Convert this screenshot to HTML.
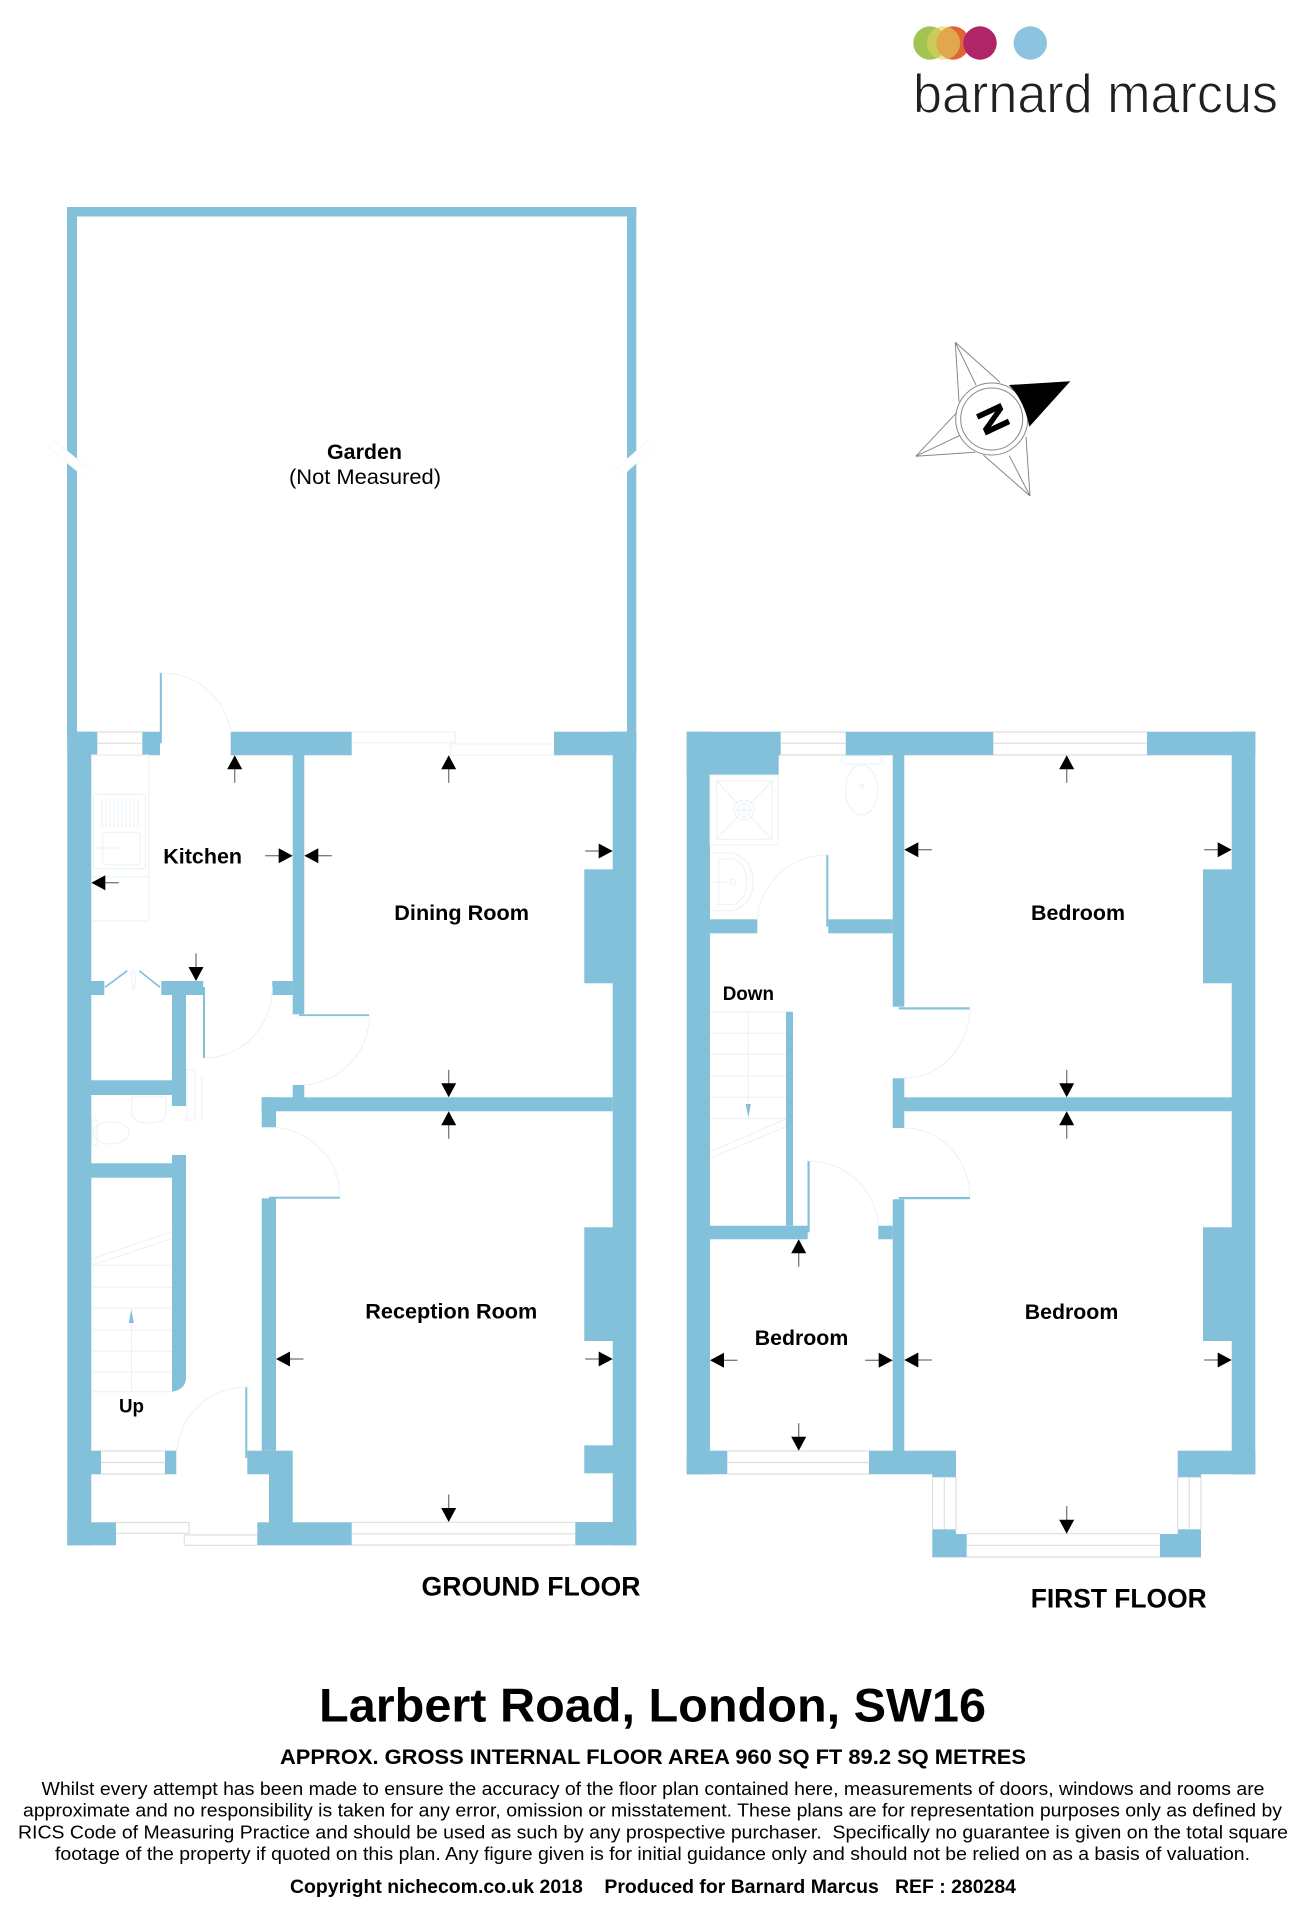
<!DOCTYPE html>
<html><head><meta charset="utf-8"><style>html,body{margin:0;padding:0;background:#fff}svg{display:block}text{font-family:"Liberation Sans",sans-serif;fill:#000}.b{font-weight:bold}</style></head>
<body>
<svg xmlns="http://www.w3.org/2000/svg" width="1310" height="1920" viewBox="0 0 1310 1920">
<defs>
<g id="a"><line x1="0" y1="12" x2="0" y2="27.5" stroke="#777" stroke-width="1.3"/><path d="M0 0L7.5 14L-7.5 14Z" fill="#000"/></g>
</defs>
<rect width="1310" height="1920" fill="#fff"/>

<!-- logo -->
<circle cx="930" cy="43" r="16.7" fill="#a3c254"/>
<circle cx="953" cy="43" r="16.7" fill="#df6535"/>
<circle cx="943.5" cy="43" r="16.7" fill="#e2d45c" opacity=".6"/>
<circle cx="980" cy="43" r="16.7" fill="#b02468"/>
<circle cx="1030.3" cy="43" r="16.7" fill="#8cc3de"/>
<text x="913" y="112.3" font-size="55" textLength="365" lengthAdjust="spacingAndGlyphs" stroke="#fff" stroke-width="1" style="fill:#231f20">barnard marcus</text>

<!-- compass -->
<g fill="none" stroke="#888" stroke-width="1">
<path d="M955.3 342.3L959 401.7M955.3 342.3L976 385M955.3 342.3L1000 382.3"/>
<path d="M915.7 456.3L956.7 412.7M915.7 456.3L959.3 435.7M915.7 456.3L975 452.3"/>
<path d="M1030 496L983.3 455M1030 496L1009.3 455.7M1030 496L1026 436.7"/>
<circle cx="991.7" cy="419" r="36"/><circle cx="991.7" cy="419" r="31"/>
</g>
<path d="M1009 385L1070.3 381.3L1029.3 426.7Q1024 400 1009 385Z" fill="#000"/>
<text class="b" x="0" y="0" font-size="38" text-anchor="middle" stroke="#000" stroke-width=".8" transform="translate(993.5,419) rotate(65) translate(0,13.5)">N</text>

<g fill="#83c0da">
<!-- garden -->
<rect x="67" y="207" width="569.3" height="9.5"/>
<rect x="67" y="207" width="10" height="530"/>
<rect x="627" y="207" width="9.3" height="530"/>
<!-- ground floor outer -->
<rect x="67.3" y="731.7" width="24" height="813.6"/>
<rect x="612.7" y="731.7" width="23.6" height="813.6"/>
<rect x="67.3" y="731.7" width="30" height="23.6"/>
<rect x="142.3" y="731.7" width="17.7" height="23.6"/>
<rect x="159.8" y="672.8" width="2" height="70.5"/>
<rect x="230.7" y="731.7" width="121" height="23.6"/>
<rect x="554" y="731.7" width="82.3" height="23.6"/>
<rect x="584.3" y="869.3" width="30" height="114"/>
<rect x="584.3" y="1227.3" width="30" height="113.7"/>
<rect x="584.3" y="1445.3" width="30" height="28"/>
<rect x="575.3" y="1522" width="61" height="23.3"/>
<rect x="67.3" y="1522.3" width="48.7" height="23"/>
<rect x="257.3" y="1522.3" width="94.4" height="23"/>
<rect x="269" y="1474" width="23.7" height="49"/>
<rect x="247.3" y="1450.7" width="45.4" height="23.6"/>
<rect x="165" y="1450.7" width="11.3" height="23.6"/>
<rect x="91" y="1450.7" width="10" height="23.6"/>
<rect x="245.3" y="1386.7" width="2" height="71.3"/>
<!-- ground interior -->
<rect x="292.7" y="755" width="11.6" height="259.3"/>
<rect x="91" y="981" width="13.3" height="14"/>
<rect x="161.3" y="981" width="42" height="14"/>
<rect x="272.3" y="981" width="20.4" height="14"/>
<rect x="203" y="987" width="2" height="71"/>
<rect x="172" y="995" width="14" height="111"/>
<rect x="91" y="1080.3" width="81" height="14.7"/>
<rect x="299" y="1014.3" width="70.3" height="1.8"/>
<rect x="292.7" y="1085" width="11.6" height="13"/>
<rect x="261.7" y="1097.3" width="351" height="14"/>
<rect x="261.7" y="1097.3" width="14.3" height="30"/>
<rect x="269" y="1196.7" width="71" height="2"/>
<rect x="261.7" y="1198.3" width="14.3" height="252.4"/>
<rect x="91" y="1163.3" width="81" height="14.4"/>
<path d="M172 1155H186V1377.7Q186 1389 172 1391.7Z"/>
<!-- first floor outer -->
<rect x="686.7" y="731.7" width="23.3" height="742.6"/>
<rect x="686.7" y="731.7" width="94" height="23.6"/>
<rect x="686.7" y="755" width="92" height="20.3"/>
<rect x="845.7" y="731.7" width="147.6" height="23.6"/>
<rect x="1147" y="731.7" width="108.3" height="23.6"/>
<rect x="1231.7" y="731.7" width="23.6" height="742.6"/>
<rect x="1203" y="869.3" width="29" height="114"/>
<rect x="1203" y="1227.3" width="29" height="113.7"/>
<rect x="1177.7" y="1450.7" width="77.6" height="23.6"/>
<rect x="1177.7" y="1474" width="23.3" height="3.3"/>
<rect x="686.7" y="1450.7" width="40.6" height="23.6"/>
<rect x="869" y="1450.7" width="87" height="23.6"/>
<rect x="932.3" y="1474" width="23.7" height="3.3"/>
<rect x="932.3" y="1529.3" width="23.7" height="5"/>
<rect x="932.3" y="1534" width="34.4" height="23.3"/>
<rect x="1177.7" y="1529.3" width="23.3" height="5"/>
<rect x="1160" y="1534" width="41" height="23.3"/>
<!-- first interior -->
<rect x="892.7" y="755" width="11.6" height="251.7"/>
<rect x="898.7" y="1007.3" width="71.3" height="2.2"/>
<rect x="892.7" y="1078.3" width="11.6" height="49.7"/>
<rect x="904" y="1097.3" width="328" height="14"/>
<rect x="898.7" y="1197" width="71.3" height="2.2"/>
<rect x="892.7" y="1199.3" width="11.6" height="252"/>
<rect x="710" y="919.3" width="47.3" height="14"/>
<rect x="828.3" y="919.3" width="64.4" height="14"/>
<rect x="826.3" y="855" width="2" height="71.7"/>
<rect x="786" y="1011.7" width="7" height="214"/>
<rect x="710" y="1225.7" width="97.7" height="13.6"/>
<rect x="807.5" y="1161" width="2.2" height="71.3"/>
<rect x="878.3" y="1225.7" width="14.4" height="13.6"/>
<!-- bifold -->
<path d="M105 987.3L127.3 970.7M139.3 970.7L160 987.3" stroke="#83c0da" stroke-width="1.6" fill="none"/>
</g>

<!-- garden breaks -->
<g fill="none">
<path d="M50 443L88 474" stroke="#f5f8fa" stroke-width="10"/><path d="M50 443L88 474" stroke="#fff" stroke-width="8"/>
<path d="M652 443L615 476" stroke="#f5f8fa" stroke-width="10"/><path d="M652 443L615 476" stroke="#fff" stroke-width="8"/>
</g>

<!-- windows -->
<g fill="none" stroke="#dedede" stroke-width="1.2">
<path d="M97.3 732H142.3M97.3 743.3H142.3M97.3 755H142.3"/>
<path d="M101 1451H165M101 1462.5H165M101 1474H165"/>
<path d="M116 1522.5H189V1533.3H116"/>
<path d="M257.3 1535H184.3V1545.3H257.3"/>
<path d="M351.7 1522.3H575.3M351.7 1533.8H575.3M351.7 1545H575.3"/>
<path d="M780.7 732H845.7M780.7 743.3H845.7M780.7 755H845.7"/>
<path d="M993.3 732H1147M993.3 743.3H1147M993.3 755H1147"/>
<path d="M727.3 1451H869M727.3 1462.5H869M727.3 1474H869"/>
<path d="M932.5 1477V1529.3M944.3 1477V1529.3M956 1477V1532"/>
<path d="M1177.7 1477V1532M1189.3 1477V1529.3M1201 1477V1529.3"/>
<path d="M966.7 1533.7H1160M966.7 1545.3H1160M966.7 1557H1160"/>
</g>
<g fill="none" stroke="#edf3f6" stroke-width="1.2">
<path d="M351.7 732H455.3V742.7H351.7"/>
<path d="M554 744H450.7V755.3H554"/>
</g>

<!-- door arcs and fixtures -->
<g fill="none" stroke="#e8f2f6" stroke-width="1">
<path d="M161.5 673A69 70 0 0 1 230.7 732"/>
<path d="M205 1058A68 70 0 0 0 272.3 987"/>
<path d="M369.5 1015A70 70 0 0 1 304 1085"/>
<path d="M340 1197A70 70 0 0 0 276 1127.5"/>
<path d="M246.5 1387A70 70 0 0 0 176.7 1451"/>
<path d="M827.3 855A70 70 0 0 0 757.3 920"/>
<path d="M970 1008A66 70 0 0 1 904 1078"/>
<path d="M970 1197A66 70 0 0 0 904 1128"/>
<path d="M809 1161A70 70 0 0 1 878.3 1225.7"/>
<!-- kitchen -->
<path d="M91 755H148.7V921H91M91 877H148.7"/>
<rect x="93.3" y="794.3" width="52" height="74.4" rx="2"/>
<rect x="102.7" y="832.3" width="37.3" height="32.4" rx="3"/>
<path d="M102 799V827M106 799V827M110 799V827M114 799V827M118 799V827M122 799V827M126 799V827M130 799V827M134 799V827M138 799V827"/>
<path d="M97 848H120"/>
<path d="M133 990Q130 975 133 970Q137 975 134 990"/>
<!-- ground wc -->
<path d="M131.7 1097H166V1112Q166 1123 149 1123Q131.7 1123 131.7 1112Z"/>
<ellipse cx="111" cy="1133" rx="18" ry="11"/>
<rect x="92" y="1120" width="5" height="25"/>
<rect x="186.7" y="1070" width="8.3" height="50"/>
<path d="M201.7 1075V1120"/>
<!-- ground stairs -->
<path d="M91 1265.3H172M91 1287.3H172M91 1308.3H172M91 1330H172M91 1351.3H172M91 1372.3H172M91 1391.7H172"/>
<path d="M91 1259.3L172 1231.7M91 1265.7L172 1238.3"/>
<path d="M131.5 1391V1322"/>
<!-- first bath -->
<rect x="710" y="775" width="68" height="70"/>
<rect x="716.7" y="781" width="55.3" height="58.3"/>
<path d="M716.7 781L737 803M772 781L751 803M716.7 839.3L737 817M772 839.3L751 817"/>
<circle cx="744" cy="810" r="10"/><circle cx="744" cy="810" r="6.5"/>
<path d="M744 804V816M738 810H750"/>
<path d="M710 853H733Q753 860 753 882Q753 904 733 910.7H710"/>
<path d="M718.7 859H733Q746.7 864 746.7 882Q746.7 900 733 904.7H718.7Z"/>
<circle cx="732.7" cy="882" r="2.5"/><path d="M713 882H728"/>
<rect x="841.7" y="756" width="41" height="8" rx="4"/>
<ellipse cx="861.7" cy="790" rx="16" ry="25"/>
<circle cx="861.7" cy="786" r="2"/>
<!-- first stairs -->
<path d="M710 1011.7H786M710 1033.3H786M710 1054.3H786M710 1075.7H786M710 1097.3H786M710 1118.5H786"/>
<path d="M710 1151.7L786 1119M710 1158.3L786 1126.7"/>
<path d="M748.3 1011.7V1105"/>
</g>
<path d="M131.3 1309.3L133.8 1323H128.8Z" fill="#83c0da"/>
<path d="M748.3 1117.5L750.8 1104H745.8Z" fill="#83c0da"/>

<!-- arrows -->
<use href="#a" transform="translate(234.7,755.3)"/>
<use href="#a" transform="translate(91.3,882.7) rotate(270)"/>
<use href="#a" transform="translate(292.7,855.7) rotate(90)"/>
<use href="#a" transform="translate(304.3,855.7) rotate(270)"/>
<use href="#a" transform="translate(196,981) rotate(180)"/>
<use href="#a" transform="translate(448.7,755.3)"/>
<use href="#a" transform="translate(612.7,851) rotate(90)"/>
<use href="#a" transform="translate(448.7,1097.3) rotate(180)"/>
<use href="#a" transform="translate(448.7,1111.3)"/>
<use href="#a" transform="translate(612.7,1359) rotate(90)"/>
<use href="#a" transform="translate(448.7,1522) rotate(180)"/>
<use href="#a" transform="translate(276,1359) rotate(270)"/>
<use href="#a" transform="translate(904.3,849.7) rotate(270)"/>
<use href="#a" transform="translate(798.7,1239.3)"/>
<use href="#a" transform="translate(710,1360.3) rotate(270)"/>
<use href="#a" transform="translate(892.7,1360.3) rotate(90)"/>
<use href="#a" transform="translate(904.3,1360) rotate(270)"/>
<use href="#a" transform="translate(798.7,1450.7) rotate(180)"/>
<use href="#a" transform="translate(1066.7,755.3)"/>
<use href="#a" transform="translate(1231.7,849.7) rotate(90)"/>
<use href="#a" transform="translate(1066.7,1097.3) rotate(180)"/>
<use href="#a" transform="translate(1066.7,1111.3)"/>
<use href="#a" transform="translate(1231.7,1360) rotate(90)"/>
<use href="#a" transform="translate(1066.7,1533.7) rotate(180)"/>

<!-- labels -->
<text class="b" x="327" y="459" font-size="21" textLength="75" lengthAdjust="spacingAndGlyphs">Garden</text>
<text x="289" y="484" font-size="21" textLength="152" lengthAdjust="spacingAndGlyphs">(Not Measured)</text>
<text class="b" x="163.3" y="863.3" font-size="21.5" textLength="78.7" lengthAdjust="spacingAndGlyphs">Kitchen</text>
<text class="b" x="394.3" y="920" font-size="21.5" textLength="134.7" lengthAdjust="spacingAndGlyphs">Dining Room</text>
<text class="b" x="365.3" y="1318.3" font-size="21.5" textLength="172" lengthAdjust="spacingAndGlyphs">Reception Room</text>
<text class="b" x="119" y="1412.7" font-size="19.5" textLength="25" lengthAdjust="spacingAndGlyphs">Up</text>
<text class="b" x="722.7" y="1000" font-size="19.5" textLength="51.3" lengthAdjust="spacingAndGlyphs">Down</text>
<text class="b" x="754.7" y="1345" font-size="21.5" textLength="93.6" lengthAdjust="spacingAndGlyphs">Bedroom</text>
<text class="b" x="1031" y="920" font-size="21.5" textLength="94" lengthAdjust="spacingAndGlyphs">Bedroom</text>
<text class="b" x="1024.7" y="1319" font-size="21.5" textLength="93.6" lengthAdjust="spacingAndGlyphs">Bedroom</text>
<text class="b" x="421.5" y="1595.5" font-size="26.5" textLength="219" lengthAdjust="spacingAndGlyphs">GROUND FLOOR</text>
<text class="b" x="1030.7" y="1607.7" font-size="26.5" textLength="176" lengthAdjust="spacingAndGlyphs">FIRST FLOOR</text>

<text class="b" x="319" y="1721.7" font-size="47" textLength="667" lengthAdjust="spacingAndGlyphs">Larbert Road, London, SW16</text>
<text class="b" x="280" y="1764" font-size="21" textLength="746" lengthAdjust="spacingAndGlyphs">APPROX. GROSS INTERNAL FLOOR AREA 960 SQ FT 89.2 SQ METRES</text>
<text x="41.5" y="1795" font-size="18.5" textLength="1223" lengthAdjust="spacingAndGlyphs">Whilst every attempt has been made to ensure the accuracy of the floor plan contained here, measurements of doors, windows and rooms are</text>
<text x="23" y="1816.7" font-size="18.5" textLength="1259" lengthAdjust="spacingAndGlyphs">approximate and no responsibility is taken for any error, omission or misstatement. These plans are for representation purposes only as defined by</text>
<text x="18" y="1838.3" font-size="18.5" textLength="1270" lengthAdjust="spacingAndGlyphs" xml:space="preserve">RICS Code of Measuring Practice and should be used as such by any prospective purchaser.  Specifically no guarantee is given on the total square</text>
<text x="55" y="1860" font-size="18.5" textLength="1195" lengthAdjust="spacingAndGlyphs">footage of the property if quoted on this plan. Any figure given is for initial guidance only and should not be relied on as a basis of valuation.</text>
<text class="b" x="290" y="1892.8" font-size="19" textLength="726" lengthAdjust="spacingAndGlyphs" xml:space="preserve">Copyright nichecom.co.uk 2018    Produced for Barnard Marcus   REF : 280284</text>
</svg>
</body></html>
